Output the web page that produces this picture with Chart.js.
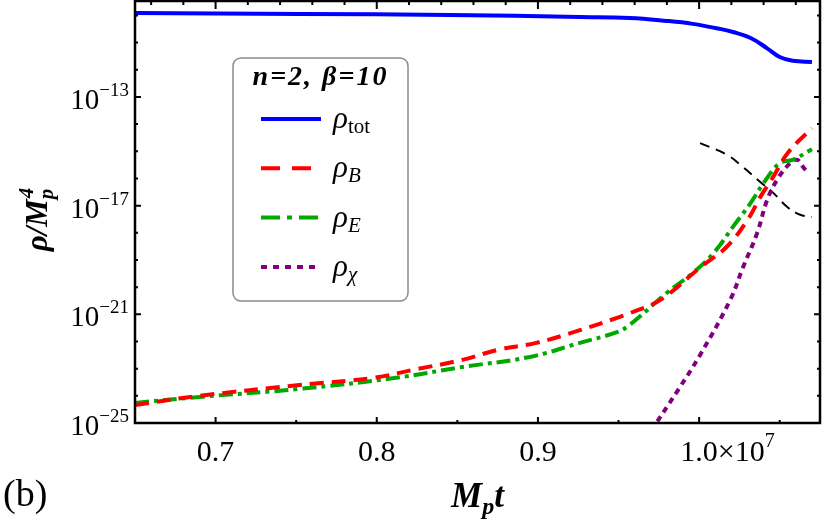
<!DOCTYPE html>
<html lang="en">
<head>
<meta charset="UTF-8">
<title>rho / Mp^4 vs Mp t</title>
<script src="https://cdn.jsdelivr.net/npm/chart.js"></script>
<style>
  body { margin: 0; background: #fff; }
  canvas { display: block; }
</style>
</head>
<body>
<canvas id="myChart" width="825" height="525"></canvas>
<script>
// time axis in units of 10^7 (M_p t)
const tTot = [0.65, 0.752, 0.845, 0.926, 0.957, 0.980, 0.996, 1.013, 1.021, 1.032, 1.042, 1.050, 1.058, 1.07];
const rhoTot = [1.23e-10, 1.14e-10, 1.04e-10, 8.8e-11, 8.1e-11, 6.3e-11, 4.9e-11, 3.2e-11, 2.45e-11, 1.48e-11, 6.3e-12, 2.95e-12, 2.14e-12, 1.95e-12];

const tB = [0.65, 0.69, 0.752, 0.798, 0.822, 0.853, 0.875, 0.899, 0.926, 0.949, 0.957, 0.976, 1.001, 1.017, 1.030, 1.038, 1.046, 1.055, 1.07];
const rhoB = [4.6e-25, 1.0e-24, 2.5e-24, 4.6e-24, 8.9e-24, 2.1e-23, 4.9e-23, 8.9e-23, 2.6e-22, 7.4e-22, 1.1e-21, 3.4e-21, 5.5e-20, 3.0e-19, 2.95e-18, 2.1e-17, 1.15e-16, 8.7e-16, 7.1e-15];

const tE = [0.65, 0.69, 0.752, 0.812, 0.853, 0.895, 0.926, 0.949, 0.957, 0.980, 0.996, 1.009, 1.021, 1.032, 1.040, 1.050, 1.058, 1.07];
const rhoE = [5.5e-25, 9.1e-25, 1.8e-24, 4.6e-24, 1.15e-23, 2.7e-23, 8.9e-23, 2.2e-22, 4.1e-22, 6.2e-21, 3.3e-20, 1.8e-19, 1.66e-18, 1.26e-17, 6.8e-17, 3.7e-16, 4.8e-16, 1.2e-15];

const tChi = [0.9665, 0.987, 1.0006, 1.0193, 1.0273, 1.036, 1.0422, 1.0484, 1.0565, 1.061, 1.0646, 1.0665];
const rhoChi = [2.4e-26, 1.66e-24, 3.2e-23, 3.4e-21, 5.5e-20, 9.8e-19, 1.6e-17, 8.9e-17, 3.7e-16, 4.8e-16, 2.6e-16, 1.9e-16];

// thin black dashed guide curve (not in legend)
const tGuide = [1.0006, 1.0174, 1.0273, 1.0379, 1.046, 1.0547, 1.0627, 1.07];
const rhoGuide = [2.0e-15, 7.4e-16, 2.6e-16, 7.4e-17, 2.95e-17, 8.9e-18, 4.6e-18, 3.8e-18];

const xTicks = [0.7, 0.8, 0.9, 1.0];
const xTickLabels = ['0.7', '0.8', '0.9', '1.0'];
const yTickExps = [-13, -17, -21, -25];

const SERIF = '"Liberation Serif", "Times New Roman", serif';

function pts(xs, ys) {
    return xs.map((v, i) => ({ x: v, y: ys[i] }));
}

const series = [
    { name: 'tot', upright: true, data: pts(tTot, rhoTot), color: '#0000ff', width: 4, dash: [], legendDash: [] },
    { name: 'B', data: pts(tB, rhoB), color: '#ff0000', width: 4, dash: [14, 8], legendDash: [19, 12] },
    { name: 'E', data: pts(tE, rhoE), color: '#00a800', width: 4, dash: [14, 5, 4, 5], legendDash: [19, 7, 5, 7] },
    { name: '\u03c7', data: pts(tChi, rhoChi), color: '#800080', width: 4, dash: [6, 5], legendDash: [6, 6] }
];

const datasets = series.map(s => ({
    label: s.name,
    data: s.data,
    borderColor: s.color,
    borderWidth: s.width,
    borderDash: s.dash,
    pointRadius: 0,
    tension: 0.4,
    clip: 0
}));
datasets.push({
    label: 'guide',
    data: pts(tGuide, rhoGuide),
    borderColor: '#000',
    borderWidth: 2,
    borderDash: [10, 7],
    pointRadius: 0,
    tension: 0.4,
    clip: 0
});

// draws pieces of text one after the other: [text, font, dy]
function richWidth(ctx, parts) {
    let w = 0;
    parts.forEach(p => { ctx.font = p[1]; w += ctx.measureText(p[0]).width; });
    return w;
}
function drawRich(ctx, parts, x, y) {
    parts.forEach(p => {
        ctx.font = p[1];
        ctx.fillText(p[0], x, y + (p[2] || 0));
        x += ctx.measureText(p[0]).width;
    });
    return x;
}

const framePlugin = {
    id: 'frame',
    afterDraw(chart) {
        const ctx = chart.ctx;
        const a = chart.chartArea;
        const xs = chart.scales.x, ys = chart.scales.y;
        ctx.save();
        ctx.fillStyle = '#000';
        ctx.strokeStyle = '#000';
        ctx.textBaseline = 'alphabetic';

        // ticks (inside the frame)
        ctx.lineWidth = 2;
        ctx.beginPath();
        for (let v = 0.7; v < 1.075; v += 0.05) {
            const px = xs.getPixelForValue(v);
            const major = Math.abs(v * 10 - Math.round(v * 10)) < 1e-6;
            ctx.moveTo(px, a.bottom); ctx.lineTo(px, a.bottom - (major ? 6 : 3));
        }
        for (let k = 0; k <= 20; k++) {
            const v = 0.66 + k * 0.02;
            const px = xs.getPixelForValue(v);
            const major = Math.abs(v * 10 - Math.round(v * 10)) < 1e-6;
            ctx.moveTo(px, a.top); ctx.lineTo(px, a.top + (major ? 8 : 4));
        }
        for (let e = -24; e <= -10; e++) {
            const py = ys.getPixelForValue(Math.pow(10, e));
            const major = yTickExps.includes(e);
            ctx.moveTo(a.left, py); ctx.lineTo(a.left + (major ? 6 : 3), py);
            ctx.moveTo(a.right, py); ctx.lineTo(a.right - (major ? 6 : 3), py);
        }
        ctx.stroke();

        // frame
        ctx.lineWidth = 2.5;
        ctx.strokeRect(a.left, a.top, a.right - a.left, a.bottom - a.top);

        // y tick labels 10^n
        yTickExps.forEach(e => {
            const py = ys.getPixelForValue(Math.pow(10, e));
            const parts = [['10', '29px ' + SERIF, 0], ['\u2212' + Math.abs(e), '19px ' + SERIF, -13]];
            const w = richWidth(ctx, parts);
            drawRich(ctx, parts, 129 - w, py + 12);
        });

        // x tick labels
        ctx.textAlign = 'center';
        ctx.font = '30px ' + SERIF;
        xTicks.forEach((v, i) => {
            const px = xs.getPixelForValue(v);
            if (i < xTicks.length - 1) {
                ctx.fillText(xTickLabels[i], px, 461);
            }
        });
        ctx.textAlign = 'left';
        const px1 = xs.getPixelForValue(xTicks[xTicks.length - 1]);
        ctx.font = '30px ' + SERIF;
        const w1 = ctx.measureText(xTickLabels[xTickLabels.length - 1]).width;
        drawRich(ctx, [[xTickLabels[xTickLabels.length - 1], '30px ' + SERIF, 0], ['\u00d710', '30px ' + SERIF, 0], ['7', '20px ' + SERIF, -14]], px1 - w1 / 2, 461);

        // x axis title
        const xt = [['M', 'italic bold 35px ' + SERIF, 0], ['p', 'italic bold 24px ' + SERIF, 7], ['t', 'italic bold 35px ' + SERIF, 0]];
        const xtw = richWidth(ctx, xt);
        drawRich(ctx, xt, (a.left + a.right) / 2 - xtw / 2, 507);

        // panel tag
        ctx.font = '38px ' + SERIF;
        ctx.fillText('(b)', 3, 506);

        // y axis title, rotated
        ctx.save();
        ctx.translate(47, 220);
        ctx.rotate(-Math.PI / 2);
        const big = 'italic bold 31px ' + SERIF, small = 'italic bold 21px ' + SERIF;
        ctx.font = big;
        const wr = ctx.measureText('\u03c1/M').width;
        ctx.font = small;
        const wp = ctx.measureText('p').width;
        let x0 = -(wr + wp) / 2;
        ctx.font = big;
        ctx.fillText('\u03c1/M', x0, 0);
        ctx.font = small;
        ctx.fillText('p', x0 + wr, 6);
        ctx.fillText('4', x0 + wr + 1, -14);
        ctx.restore();

        // legend box
        const bx = 233, by = 58, bw = 175, bh = 243;
        ctx.beginPath();
        ctx.roundRect(bx, by, bw, bh, 8);
        ctx.fillStyle = '#fff';
        ctx.fill();
        ctx.lineWidth = 1.5;
        ctx.strokeStyle = '#8a8a8a';
        ctx.stroke();

        ctx.fillStyle = '#000';
        ctx.textAlign = 'center';
        ctx.font = 'italic bold 28px ' + SERIF;
        ctx.letterSpacing = '2px';
        ctx.fillText('n=2, \u03b2=10', bx + bw / 2, 85);
        ctx.letterSpacing = '0px';
        ctx.textAlign = 'left';

        series.forEach((s, i) => {
            const ly = 119 + i * 49.3;
            ctx.beginPath();
            ctx.setLineDash(s.legendDash);
            ctx.lineWidth = s.width;
            ctx.strokeStyle = s.color;
            ctx.moveTo(261, ly);
            ctx.lineTo(i === 1 ? 311 : 321, ly);
            ctx.stroke();
            ctx.setLineDash([]);
            const subFont = (s.upright ? '' : 'italic ') + '21px ' + SERIF;
            drawRich(ctx, [['\u03c1', 'italic 31px ' + SERIF, 0], [s.name, subFont, 5]], 333, ly + 9);
        });

        ctx.restore();
    }
};

const myChart = new Chart(document.getElementById('myChart'), {
    type: 'line',
    data: { datasets: datasets },
    options: {
        responsive: false,
        animation: false,
        devicePixelRatio: 1,
        layout: { padding: { left: 135, right: 5, top: 1, bottom: 102 } },
        plugins: { legend: { display: false }, tooltip: { enabled: false } },
        scales: {
            x: { type: 'linear', min: 0.65, max: 1.075, display: false },
            y: { type: 'logarithmic', min: 1e-25, max: 3.4e-10, display: false }
        }
    },
    plugins: [framePlugin]
});
</script>
</body>
</html>
